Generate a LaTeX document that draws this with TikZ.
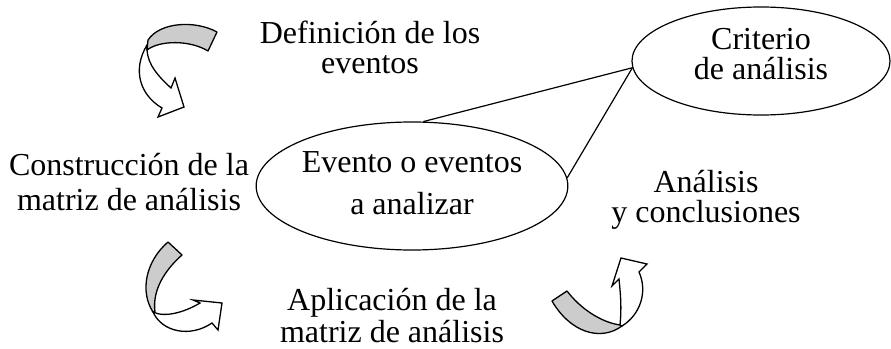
\documentclass[tikz,border=0pt]{standalone}
\usepackage{fontspec}
\setmainfont{Liberation Serif}
\usetikzlibrary{shapes.geometric}
\tikzstyle{txt} = [align=center, inner sep=0pt, anchor=base, font=\fontsize{32}{30}\selectfont]
\tikzstyle{bubble} = [draw, ellipse, line width=1.2pt, inner sep=0pt, align=center, font=\fontsize{32}{30}\selectfont]
\tikzstyle{band} = [draw, fill=gray!40, line width=1.3pt, line join=round]
\tikzstyle{shaft} = [draw, fill=white, line width=1.3pt, line join=miter]
\begin{document}
\begin{tikzpicture}[x=1pt, y=-1pt]
\useasboundingbox (0,0) rectangle (891,348);
% texts (base = last line)
\node[txt] (defi) at (370,73) {Definición de los\\eventos};
\node[txt] (constr) at (129,210) {Construcción de la\\[5pt]matriz de análisis};
\node[txt] (aplic) at (392,342) {Aplicación de la\\[2pt]matriz de análisis};
\node[txt] (concl) at (706,222) {Análisis\\y conclusiones};
% ellipses
\node[bubble, minimum width=302pt, minimum height=128pt, text depth=6pt]
    (evento) at (412,186) {Evento o eventos\\[12pt]a analizar};
\node[bubble, minimum width=258pt, minimum height=108pt, text depth=14pt]
    (crit) at (761,61) {Criterio\\de análisis};
\draw[line width=1.2pt] (crit.183) -- (evento.80);
\draw[line width=1.2pt] (crit.183) -- (evento.3);
% curved arrow, top left
\draw[shaft] (147,45) .. controls (132,70) and (140,95) .. (162,108)
    -- (158,117) -- (184,107) -- (175,78) -- (171,88)
    .. controls (158,76) and (148,65) .. (147,50) -- cycle;
\draw[band] (217,32) .. controls (195,20) and (160,22) .. (148,40)
    -- (147,50) .. controls (160,40) and (190,40) .. (208,51) -- cycle;
% curved arrow, bottom left
\draw[band] (168,242) -- (182,255) .. controls (165,270) and (152,290) .. (155,312)
    -- (153,312) .. controls (140,292) and (145,262) .. (168,242) -- cycle;
\draw[shaft] (153,312) .. controls (165,318) and (185,312) .. (200,303)
    -- (193,300) -- (222,303) -- (218,330) -- (212,323)
    .. controls (190,338) and (162,332) .. (153,312) -- cycle;
% curved arrow, bottom right
\draw[band] (552,301) -- (567,291) .. controls (580,308) and (600,322) .. (620,325)
    -- (622,326) .. controls (600,342) and (570,332) .. (552,301) -- cycle;
\draw[shaft] (620,325) .. controls (622,305) and (620,290) .. (619,279)
    -- (612,286) -- (621,258) -- (647,264) -- (639,272)
    .. controls (648,292) and (640,315) .. (622,326) -- cycle;
\end{tikzpicture}
\end{document}
